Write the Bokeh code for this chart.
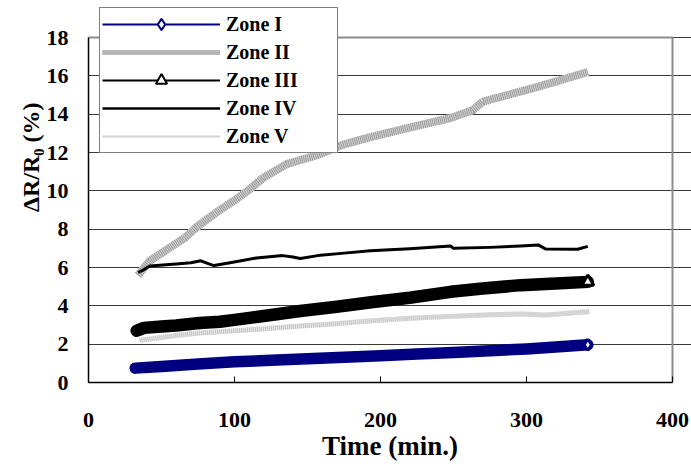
import math
from bokeh.plotting import figure
from bokeh.models import ColumnDataSource, Legend, LegendItem, Title, FixedTicker
from bokeh.embed import file_html
from bokeh.resources import INLINE

# ---- data ----
zone1_t = [32, 50, 75, 100, 125, 150, 175, 200, 225, 250, 275, 300, 320, 342]
zone1_v = [0.75, 0.84, 0.96, 1.08, 1.16, 1.24, 1.32, 1.40, 1.49, 1.57, 1.66, 1.75, 1.85, 1.97]

zone2_t = [34, 42, 50, 58, 66, 74, 80, 90, 100, 109, 120, 136, 157, 174, 193, 220, 248, 263, 270, 287, 304, 320, 342]
zone2_v = [5.6, 6.35, 6.75, 7.15, 7.55, 8.1, 8.45, 9.0, 9.5, 10.0, 10.7, 11.4, 11.87, 12.4, 12.8, 13.3, 13.8, 14.2, 14.65, 15.0, 15.35, 15.7, 16.2]

zone3_t = [33, 38, 50, 60, 76, 90, 100, 120, 145, 170, 195, 220, 248, 270, 296, 320, 342]
zone3_v = [2.7, 2.85, 2.92, 2.97, 3.1, 3.17, 3.27, 3.47, 3.73, 3.95, 4.2, 4.42, 4.73, 4.9, 5.08, 5.17, 5.25]

zone4_t = [34, 37, 42, 60, 70, 77, 82, 86, 97, 115, 133, 140, 145, 157, 175, 193, 220, 248, 250, 275, 296, 308, 313, 335, 342]
zone4_v = [5.74, 5.85, 6.08, 6.18, 6.25, 6.35, 6.2, 6.1, 6.25, 6.5, 6.62, 6.55, 6.47, 6.62, 6.75, 6.88, 6.98, 7.12, 7.0, 7.05, 7.12, 7.18, 6.97, 6.95, 7.1]

zone5_t = [35, 50, 60, 76, 100, 120, 145, 170, 190, 220, 248, 275, 296, 313, 330, 343]
zone5_v = [2.2, 2.35, 2.45, 2.58, 2.7, 2.8, 2.95, 3.07, 3.2, 3.35, 3.45, 3.53, 3.58, 3.52, 3.62, 3.7]

labels = ["Zone I", "Zone II", "Zone III", "Zone IV", "Zone V"]
x_ticks = [0, 100, 200, 300, 400]
y_ticks = [0, 2, 4, 6, 8, 10, 12, 14, 16, 18]
x_title = "Time (min.)"
y_title = "ΔR/R₀ (%)"

FONT = "Liberation Serif"
NAVY = "#000080"

# plot area 584 x 345 px for 0-400 x 0-18; the frame is larger (above/right)
# so that the legend, which sticks out above the plot area, is not clipped
FIG_W, FIG_H = 691, 469
LEFT, BOTTOM = 88, 87
PX_X = 584 / (x_ticks[-1] - x_ticks[0])
PX_Y = 345 / (y_ticks[-1] - y_ticks[0])
FRAME_W, FRAME_H = FIG_W - LEFT, FIG_H - BOTTOM
x_end = x_ticks[0] + FRAME_W / PX_X
y_end = y_ticks[0] + FRAME_H / PX_Y

p = figure(width=FIG_W, height=FIG_H, x_range=(x_ticks[0], x_end), y_range=(y_ticks[0], y_end),
           output_backend="svg", toolbar_location=None,
           min_border_left=LEFT, min_border_right=0, min_border_top=0, min_border_bottom=BOTTOM)
p.background_fill_color = "white"
p.border_fill_color = "white"
p.outline_line_color = None

# axes
p.xaxis.ticker = FixedTicker(ticks=x_ticks)
p.yaxis.ticker = FixedTicker(ticks=y_ticks)
p.xaxis.bounds = (x_ticks[0], x_ticks[-1])
p.yaxis.bounds = (y_ticks[0], y_ticks[-1])
for ax in (p.xaxis[0], p.yaxis[0]):
    ax.axis_line_color = "black"
    ax.axis_line_width = 1.5
    ax.minor_tick_line_color = None
    ax.major_label_text_font = FONT
    ax.major_label_text_font_style = "bold"
    ax.major_label_text_font_size = "22px"
    ax.major_label_text_color = "black"
    ax.major_tick_line_color = "black"
p.xaxis.major_tick_in = 6
p.xaxis.major_tick_out = 0
p.xaxis.major_label_standoff = 30
p.yaxis.major_tick_in = 0
p.yaxis.major_tick_out = 0
p.yaxis.major_label_standoff = 20

p.xaxis.axis_label = x_title
p.xaxis.axis_label_text_font = FONT
p.xaxis.axis_label_text_font_style = "bold"
p.xaxis.axis_label_text_font_size = "27px"
p.xaxis.axis_label_text_color = "black"
p.xaxis.axis_label_standoff = 1

p.xgrid.grid_line_color = None
p.ygrid.grid_line_color = "#3a3a3a"
p.ygrid.grid_line_width = 1

# plot-area border (top and right, grey)
p.segment(x0=[x_ticks[0], x_ticks[-1]], y0=[y_ticks[-1], y_ticks[0]],
          x1=[x_ticks[-1], x_ticks[-1]], y1=[y_ticks[-1], y_ticks[-1]],
          line_color="#8c8c8c", line_width=2)

# ---- data series ----
s1 = ColumnDataSource(dict(t=zone1_t, v=zone1_v))
s2 = ColumnDataSource(dict(t=zone2_t, v=zone2_v))
s3 = ColumnDataSource(dict(t=zone3_t, v=zone3_v))
s4 = ColumnDataSource(dict(t=zone4_t, v=zone4_v))
s5 = ColumnDataSource(dict(t=zone5_t, v=zone5_v))

# Zone I: thick navy band with end diamond
p.line("t", "v", source=s1, line_color=NAVY, line_width=11.5, line_join="round", line_cap="round")
p.scatter(x=[zone1_t[-1]], y=[zone1_v[-1]], marker="diamond", size=11,
          fill_color="white", line_color=NAVY, line_width=3)

# Zone II: grey hatched thick line
p.line("t", "v", source=s2, line_color="#d2d2d2", line_width=8, line_join="round")
p.line("t", "v", source=s2, line_color="#9a9a9a", line_width=8, line_dash="1 1", line_join="round")

# Zone III: thick black band with end triangle
p.line("t", "v", source=s3, line_color="black", line_width=12.5, line_join="round", line_cap="round")
p.scatter(x=[zone3_t[-1]], y=[zone3_v[-1]], marker="triangle", size=12,
          fill_color="white", line_color="black", line_width=3)

# Zone IV: black line
p.line("t", "v", source=s4, line_color="black", line_width=3, line_join="round")

# Zone V: light grey dotted band
p.line("t", "v", source=s5, line_color="#e6e6e6", line_width=5, line_join="round")
p.line("t", "v", source=s5, line_color="#c4c4c4", line_width=5, line_dash="1 1", line_join="round")

# ---- legend-only renderers (a single NaN point: draws nothing in the plot) ----
nan = float("nan")
def blank():
    return ColumnDataSource(dict(x=[nan], y=[nan]))

l1a = p.line("x", "y", source=blank(), line_color=NAVY, line_width=2)
l1b = p.scatter("x", "y", source=blank(), marker="diamond", size=10, fill_color="white", line_color=NAVY, line_width=2)
l2a = p.line("x", "y", source=blank(), line_color="#d2d2d2", line_width=5)
l2b = p.line("x", "y", source=blank(), line_color="#9a9a9a", line_width=5, line_dash="1 1")
l3a = p.line("x", "y", source=blank(), line_color="black", line_width=2)
l3b = p.scatter("x", "y", source=blank(), marker="triangle", size=9, fill_color="white", line_color="black", line_width=2)
l4 = p.line("x", "y", source=blank(), line_color="black", line_width=2.5)
l5a = p.line("x", "y", source=blank(), line_color="#e6e6e6", line_width=2)
l5b = p.line("x", "y", source=blank(), line_color="#c4c4c4", line_width=2, line_dash="1 1")

legend = Legend(items=[
    LegendItem(label=labels[0], renderers=[l1a, l1b]),
    LegendItem(label=labels[1], renderers=[l2a, l2b]),
    LegendItem(label=labels[2], renderers=[l3a, l3b]),
    LegendItem(label=labels[3], renderers=[l4]),
    LegendItem(label=labels[4], renderers=[l5a, l5b]),
], location=(11, 229))
legend.margin = 0
legend.padding = 2
legend.spacing = 0
legend.label_height = 28
legend.glyph_height = 28
legend.glyph_width = 118
legend.label_width = 109
legend.label_standoff = 6
legend.label_text_font = FONT
legend.label_text_font_style = "bold"
legend.label_text_font_size = "20px"
legend.label_text_color = "black"
legend.border_line_color = "black"
legend.border_line_width = 1
legend.background_fill_color = "white"
legend.background_fill_alpha = 1
p.add_layout(legend, "center")

# ---- y-axis title (sits above the middle of the axis, as in the reference) ----
p.add_layout(Title(text=y_title, align="right", offset=102, vertical_align="bottom", standoff=0,
                   text_font=FONT, text_font_style="bold", text_font_size="24px",
                   text_color="black"), "left")

open("out.html", "w").write(file_html(p, INLINE))
